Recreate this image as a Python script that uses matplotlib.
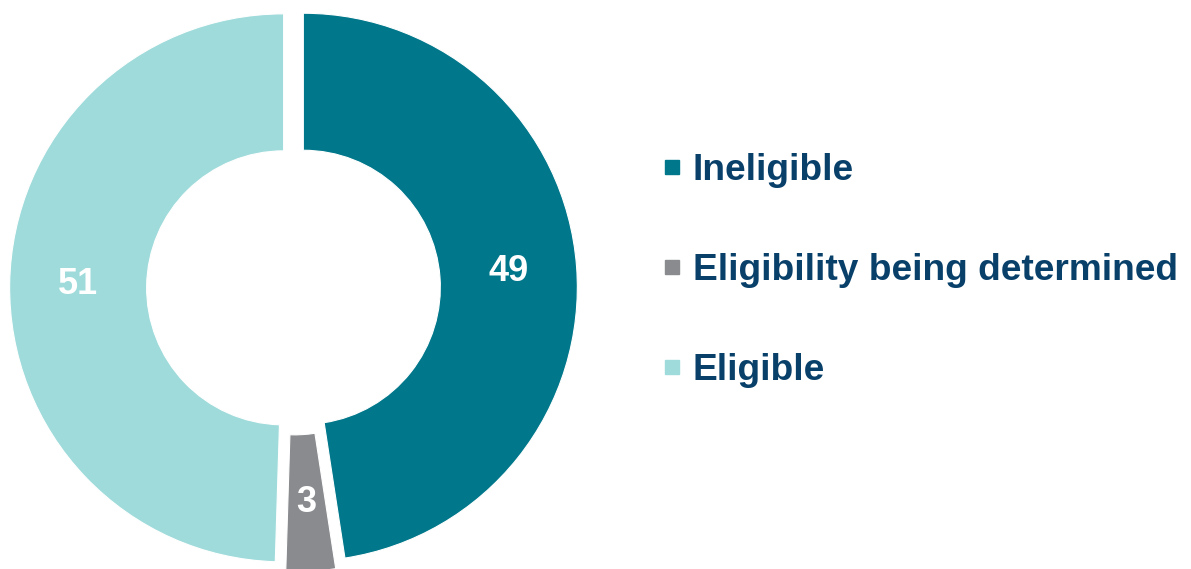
import matplotlib.pyplot as plt
from matplotlib.lines import Line2D

# Data
labels = ["Ineligible", "Eligibility being determined", "Eligible"]
values = [49, 3, 51]
colors = ["#00778A", "#898B8E", "#A0DBDB"]
text_color = "#08406A"

plt.rcParams['font.family'] = ['Liberation Sans', 'DejaVu Sans']

fig = plt.figure(figsize=(11.91, 5.69), dpi=100)
ax = fig.add_axes([0, 0, 1, 1])

wedges, texts, autotexts = ax.pie(
    values,
    colors=colors,
    startangle=90,
    counterclock=False,
    explode=[0.036] * len(values),
    radius=1.0,
    wedgeprops=dict(width=0.5, edgecolor='white', linewidth=0.8),
    autopct=lambda p: '{:.0f}'.format(p * sum(values) / 100),
    pctdistance=0.75,
    textprops=dict(color='white', fontsize=26, fontweight='bold'),
)

# map 1 unit = 274 px, center at (293.5, 288 from top)
R = 274.0
cx, cy = 293.5, 569 - 288
ax.set_xlim(-cx / R, (1191 - cx) / R)
ax.set_ylim(-cy / R, (569 - cy) / R)
ax.set_aspect('auto')
ax.axis('off')

handles = [Line2D([0], [0], marker='s', linestyle='none', markersize=10,
                  markerfacecolor=c, markeredgecolor=c) for c in colors]
leg = fig.legend(handles, labels, loc='center left',
                 bbox_to_anchor=(661 / 1191, 1 - 270.5 / 569),
                 frameon=False, fontsize=26.7, labelspacing=1.75,
                 handlelength=0.6, handletextpad=0.25, borderpad=0,
                 borderaxespad=0)
for t in leg.get_texts():
    t.set_color(text_color)
    t.set_fontweight('bold')

fig.savefig('out.png', dpi=100)
